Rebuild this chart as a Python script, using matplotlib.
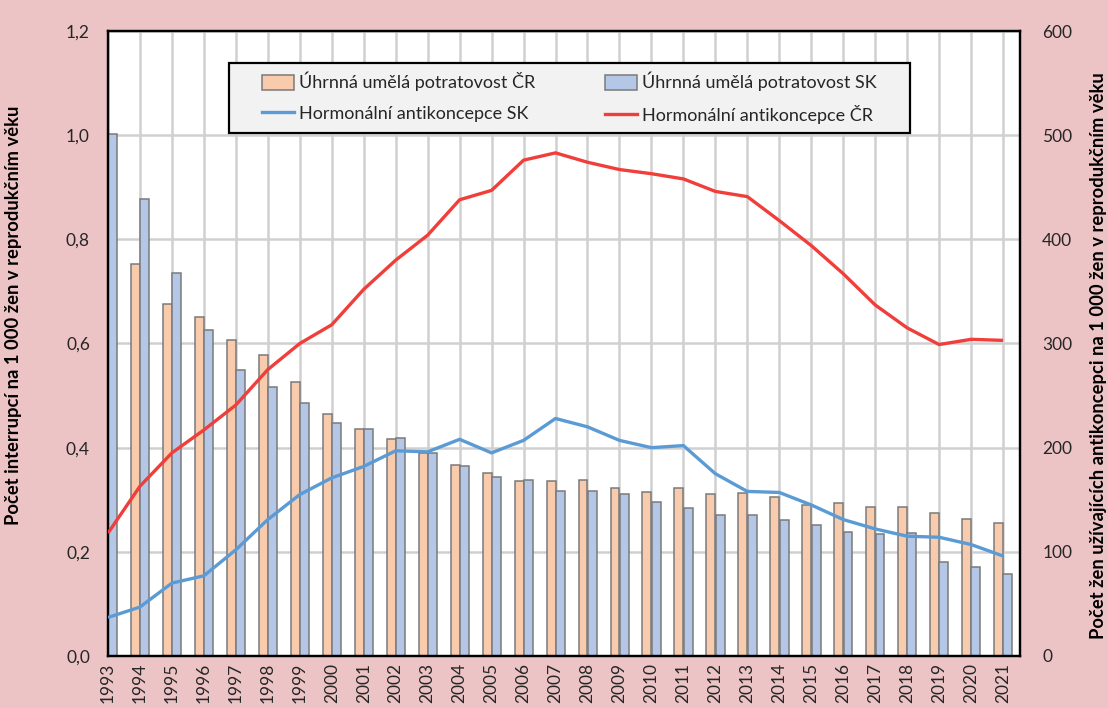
import numpy as np
import matplotlib
matplotlib.use("Agg")
import matplotlib.pyplot as plt
from matplotlib.patches import Rectangle, Patch
from matplotlib.lines import Line2D
from matplotlib.ticker import FuncFormatter, MultipleLocator

plt.rcParams['font.family'] = ['Lato', 'DejaVu Sans']

years = list(range(1993, 2022))
cr_rate = [np.nan, 0.752, 0.675, 0.650, 0.607, 0.577, 0.527, 0.464, 0.436, 0.417,
           0.389, 0.367, 0.352, 0.336, 0.336, 0.338, 0.322, 0.315, 0.322, 0.312,
           0.313, 0.306, 0.290, 0.294, 0.287, 0.287, 0.274, 0.264, 0.255]
sk_rate = [1.002, 0.877, 0.735, 0.625, 0.549, 0.516, 0.486, 0.448, 0.436, 0.419,
           0.389, 0.365, 0.343, 0.338, 0.317, 0.316, 0.311, 0.296, 0.284, 0.271,
           0.271, 0.261, 0.251, 0.238, 0.235, 0.237, 0.181, 0.170, 0.157]
sk_hc = [37, 47, 70, 77, 102, 131, 155, 171, 182, 197, 196, 208, 195, 207, 228,
         220, 207, 200, 202, 175, 158, 157, 145, 131, 122, 115, 114, 107, 96]
cr_hc = [118, 163, 195, 217, 241, 275, 300, 318, 352, 380, 404, 438, 447, 476, 483,
         474, 467, 463, 458, 446, 441, 418, 394, 367, 337, 315, 299, 304, 303]

lab_cr_bar = "Úhrnná umělá potratovost ČR"
lab_sk_bar = "Úhrnná umělá potratovost SK"
lab_sk_line = "Hormonální antikoncepce SK"
lab_cr_line = "Hormonální antikoncepce ČR"
ylabel_left = "Počet interrupcí na 1 000 žen v reprodukčním věku"
ylabel_right = "Počet žen užívajících antikoncepci na 1 000 žen v reprodukčním věku"

BG = '#EDC4C5'
C_CR_BAR = '#F8CBAD'
C_SK_BAR = '#B4C7E7'
C_SK_LINE = '#5B9BD5'
C_CR_LINE = '#F03E3A'
TXT = '#262626'

fig = plt.figure(figsize=(11.08, 7.08), dpi=100, facecolor=BG)
ax = fig.add_axes([108/1108, 1-656/708, 912/1108, 625/708])
ax.set_facecolor('white')
ax2 = ax.twinx()

x = np.array(years, dtype=float)
w = 0.28
ax.bar(x - w, cr_rate, width=w, align='edge', color=C_CR_BAR, edgecolor='#7A7A7A',
       linewidth=1.1, zorder=2)
ax.bar(x + 0.01, sk_rate, width=w, align='edge', color=C_SK_BAR, edgecolor='#7A7A7A',
       linewidth=1.1, zorder=2)

ax2.plot(x, sk_hc, color=C_SK_LINE, lw=2.4, solid_capstyle='butt', zorder=3)
ax2.plot(x, cr_hc, color=C_CR_LINE, lw=2.4, solid_capstyle='butt', zorder=3)

ax.set_xlim(1993, 2021.53)
ax.set_ylim(0, 1.2)
ax2.set_ylim(0, 600)
ax.yaxis.set_major_locator(MultipleLocator(0.2))
ax2.yaxis.set_major_locator(MultipleLocator(100))
ax.yaxis.set_major_formatter(FuncFormatter(lambda v, p: f"{v:.1f}".replace('.', ',')))
ax.set_xticks(years)
ax.set_xticklabels([str(y) for y in years], rotation=90, va='top', ha='center')

ax.grid(True, color='#D0D0D0', lw=1.8, zorder=0)
ax.set_axisbelow(True)

for a in (ax, ax2):
    for s in a.spines.values():
        s.set_color('black')
        s.set_linewidth(1.6)
ax.tick_params(axis='y', length=0, pad=13, labelsize=12.5, labelcolor=TXT)
ax.tick_params(axis='x', length=0, pad=5, labelsize=12.5, labelcolor=TXT)
ax2.tick_params(axis='y', length=0, pad=16, labelsize=12.5, labelcolor=TXT)

ax.set_ylabel(ylabel_left, fontsize=13.2, fontweight='bold', color='black')
ax.yaxis.set_label_coords(-0.094, 0.545)
ax2.set_ylabel(ylabel_right, fontsize=13.2, fontweight='bold', color='black')
ax2.yaxis.set_label_coords(1.077, 0.48)

# legend box
bx0 = (229-108)/912
bx1 = (910-108)/912
by0 = (656-133)/625
by1 = (656-63)/625
ax2.add_patch(Rectangle((bx0, by0), bx1-bx0, by1-by0, transform=ax2.transAxes,
                        facecolor='#F2F2F2', edgecolor='black', lw=1.6, zorder=5,
                        clip_on=False))
handles = [Patch(facecolor=C_CR_BAR, edgecolor='#7A7A7A', lw=1.1),
           Line2D([], [], color=C_SK_LINE, lw=2.4),
           Patch(facecolor=C_SK_BAR, edgecolor='#7A7A7A', lw=1.1),
           Line2D([], [], color=C_CR_LINE, lw=2.4)]
labels = [lab_cr_bar, lab_sk_line, lab_sk_bar, lab_cr_line]
lx0 = (262-108)/912
lx1 = (877-108)/912
leg = ax2.legend(handles, labels, ncol=2, mode='expand', loc='center',
                 bbox_to_anchor=(lx0, by0, lx1-lx0, by1-by0), borderaxespad=0,
                 borderpad=0, frameon=False, fontsize=13, handlelength=1.75,
                 handleheight=0.9, handletextpad=0.3, labelspacing=0.75,
                 labelcolor=TXT)
leg.set_zorder(6)

fig.savefig('out.png', dpi=100, facecolor=BG)
